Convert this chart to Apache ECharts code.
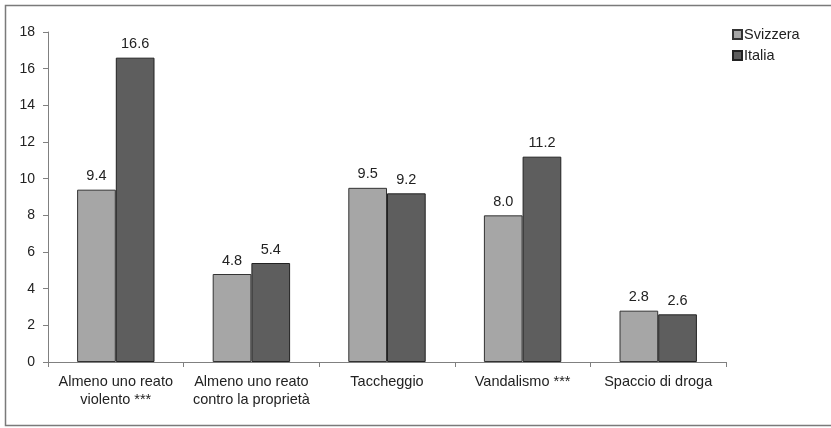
<!DOCTYPE html>
<html>
<head>
<meta charset="utf-8">
<script src="https://cdn.jsdelivr.net/npm/echarts@6/dist/echarts.min.js"></script>
<style>
  html, body { margin: 0; padding: 0; background: #fff; }
  #chart { width: 831px; height: 428px; }
</style>
</head>
<body>
<div id="chart"></div>
<script>
// Reati per categoria: Svizzera vs Italia (%)
const categories = [
  'Almeno uno reato\nviolento ***',
  'Almeno uno reato\ncontro la proprietà',
  'Taccheggio',
  'Vandalismo ***',
  'Spaccio di droga'
];
const svizzera = [9.4, 4.8, 9.5, 8.0, 2.8];
const italia = [16.6, 5.4, 9.2, 11.2, 2.6];
const seriesNames = ['Svizzera', 'Italia'];

const FONT = 'Liberation Sans, Arial, sans-serif';
const chart = echarts.init(document.getElementById('chart'));

const labelStyle = {
  show: true,
  position: 'top',
  distance: 6,
  fontFamily: FONT,
  fontSize: 14.5,
  color: '#222',
  formatter: p => p.value.toFixed(1)
};

chart.setOption({
  animation: false,
  backgroundColor: '#fff',
  graphic: [{
    type: 'rect',
    shape: { x: 5.5, y: 5.5, width: 840, height: 420 },
    style: { fill: 'none', stroke: '#7a7a7a', lineWidth: 1.5 },
    silent: true
  }],
  legend: {
    orient: 'vertical',
    left: 727,
    top: 22,
    itemWidth: 9,
    itemHeight: 9,
    itemGap: 6,
    icon: 'rect',
    textStyle: { fontFamily: FONT, fontSize: 14.5, color: '#222', padding: [0, 0, 0, -3] },
    data: seriesNames
  },
  grid: { left: 48, right: 105, top: 32, bottom: 66 },
  xAxis: {
    type: 'category',
    data: categories,
    axisLine: { lineStyle: { color: '#808080', width: 1 } },
    axisTick: { show: true, length: 5, alignWithLabel: false, lineStyle: { color: '#808080' } },
    axisLabel: { fontFamily: FONT, fontSize: 14.5, color: '#222', margin: 11, lineHeight: 18, interval: 0 }
  },
  yAxis: {
    type: 'value',
    min: 0,
    max: 18,
    interval: 2,
    splitLine: { show: false },
    axisLine: { show: true, lineStyle: { color: '#808080', width: 1 } },
    axisTick: { show: true, length: 5, lineStyle: { color: '#808080' } },
    axisLabel: { fontFamily: FONT, fontSize: 14, color: '#222', margin: 13 }
  },
  series: [
    {
      name: seriesNames[0],
      type: 'bar',
      data: svizzera,
      barWidth: 38.7,
      barGap: '0%',
      itemStyle: { color: '#a6a6a6', borderColor: '#333', borderWidth: 1 },
      label: labelStyle
    },
    {
      name: seriesNames[1],
      type: 'bar',
      data: italia,
      barWidth: 38.7,
      barGap: '0%',
      itemStyle: { color: '#5e5e5e', borderColor: '#222', borderWidth: 1 },
      label: labelStyle
    }
  ]
});
</script>
</body>
</html>
